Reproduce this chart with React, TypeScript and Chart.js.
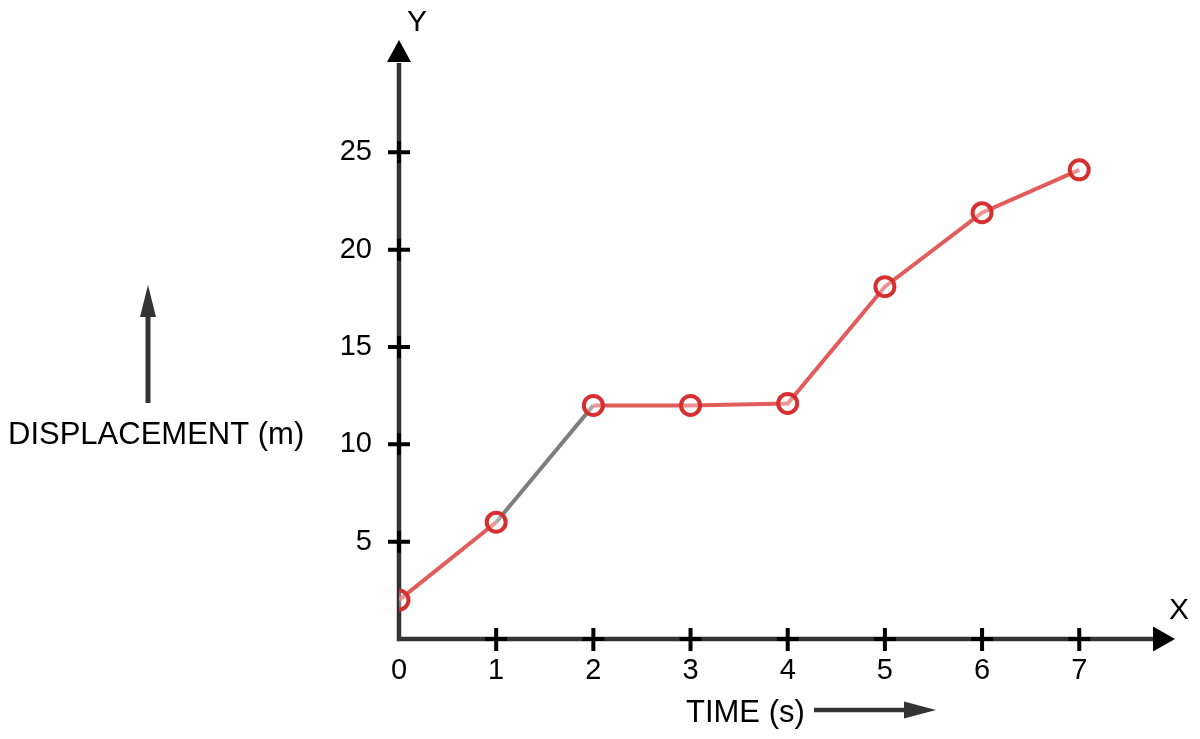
import React, { useEffect, useRef } from "react";
import { Chart, registerables } from "chart.js";

Chart.register(...registerables);

// Displacement–time readings
const times = [0, 1, 2, 3, 4, 5, 6, 7];
const displacement = [2, 6, 12, 12, 12.1, 18.1, 21.9, 24.1];
const xTickValues = [0, 1, 2, 3, 4, 5, 6, 7];
const yTickValues = [5, 10, 15, 20, 25];
const yAxisTitle = "DISPLACEMENT (m)";
const xAxisTitle = "TIME (s)";

const FONT = '"Liberation Sans", Arial, sans-serif';
const AXIS_COLOR = "#333333";
const LINE_RED = "rgba(222, 70, 70, 0.88)";
const POINT_RED = "#d62f2f";
const LINE_GRAY = "#7f7f7f";

function arrowHead(
  ctx: CanvasRenderingContext2D,
  tipX: number,
  tipY: number,
  dir: "up" | "right",
  len: number,
  half: number,
  color: string
) {
  ctx.beginPath();
  if (dir === "up") {
    ctx.moveTo(tipX, tipY);
    ctx.lineTo(tipX - half, tipY + len);
    ctx.lineTo(tipX + half, tipY + len);
  } else {
    ctx.moveTo(tipX, tipY);
    ctx.lineTo(tipX - len, tipY - half);
    ctx.lineTo(tipX - len, tipY + half);
  }
  ctx.closePath();
  ctx.fillStyle = color;
  ctx.fill();
}

// Axis lines with arrowheads, cross-shaped tick marks and free-standing captions
const axesPlugin = {
  id: "arrowAxes",
  beforeDatasetsDraw(chart: any) {
    const { ctx, chartArea, scales } = chart;
    const x = scales.x;
    const y = scales.y;
    const ox = x.getPixelForValue(0);
    const oy = y.getPixelForValue(0);
    ctx.save();
    ctx.lineCap = "butt";
    // y axis
    ctx.strokeStyle = AXIS_COLOR;
    ctx.lineWidth = 4.5;
    ctx.beginPath();
    ctx.moveTo(ox, oy + 2);
    ctx.lineTo(ox, chartArea.top + 8);
    ctx.stroke();
    arrowHead(ctx, ox, chartArea.top - 15, "up", 22, 12, "#000");
    // x axis
    ctx.beginPath();
    ctx.moveTo(ox - 2, oy);
    ctx.lineTo(chartArea.right - 3, oy);
    ctx.stroke();
    arrowHead(ctx, chartArea.right + 18, oy, "right", 22, 12.5, "#000");
    // tick crosses
    ctx.strokeStyle = "#000";
    ctx.lineWidth = 4;
    yTickValues.forEach((v) => {
      const py = y.getPixelForValue(v);
      ctx.beginPath();
      ctx.moveTo(ox - 11, py);
      ctx.lineTo(ox + 11, py);
      ctx.moveTo(ox, py - 11);
      ctx.lineTo(ox, py + 11);
      ctx.stroke();
    });
    xTickValues.slice(1).forEach((v) => {
      const px = x.getPixelForValue(v);
      ctx.beginPath();
      ctx.moveTo(px - 11, oy);
      ctx.lineTo(px + 11, oy);
      ctx.moveTo(px, oy - 11);
      ctx.lineTo(px, oy + 12);
      ctx.stroke();
    });
    // axis letters
    ctx.fillStyle = "#000";
    ctx.font = `30px ${FONT}`;
    ctx.textAlign = "center";
    ctx.textBaseline = "middle";
    ctx.fillText("Y", ox + 18, chartArea.top - 32);
    ctx.fillText("X", chartArea.right + 22, oy - 28);
    ctx.restore();
  },
  afterDraw(chart: any) {
    const { ctx } = chart;
    ctx.save();
    ctx.fillStyle = "#000";
    ctx.font = `31px ${FONT}`;
    ctx.textAlign = "left";
    ctx.textBaseline = "alphabetic";
    ctx.fillText(yAxisTitle, 8, 444);
    ctx.fillText(xAxisTitle, 686, 722);
    // direction arrows beside the captions
    ctx.strokeStyle = AXIS_COLOR;
    ctx.lineWidth = 5;
    ctx.beginPath();
    ctx.moveTo(148, 403);
    ctx.lineTo(148, 314);
    ctx.stroke();
    arrowHead(ctx, 148, 285, "up", 32, 8, AXIS_COLOR);
    ctx.lineWidth = 4.5;
    ctx.beginPath();
    ctx.moveTo(814, 710);
    ctx.lineTo(907, 710);
    ctx.stroke();
    arrowHead(ctx, 936, 710, "right", 32, 8.5, AXIS_COLOR);
    ctx.restore();
  },
};

export default function App() {
  const canvasRef = useRef<HTMLCanvasElement | null>(null);

  useEffect(() => {
    const canvas = canvasRef.current;
    if (!canvas) return;
    const chart = new Chart(canvas, {
      type: "line",
      data: {
        datasets: [
          {
            data: times.map((t, i) => ({ x: t, y: displacement[i] })),
            borderColor: LINE_RED,
            borderWidth: 4,
            pointRadius: 9.5,
            pointBorderWidth: 4,
            pointBorderColor: POINT_RED,
            pointBackgroundColor: "rgba(255,255,255,0.35)",
            tension: 0,
            segment: {
              borderColor: (c: any) => (c.p0DataIndex === 1 ? LINE_GRAY : undefined),
            },
          },
        ],
      },
      options: {
        responsive: false,
        animation: false,
        events: [],
        layout: { padding: { top: 55, right: 43, left: 0, bottom: 0 } },
        plugins: { legend: { display: false }, tooltip: { enabled: false } },
        scales: {
          x: {
            type: "linear",
            min: 0,
            max: 7.8,
            grid: { display: false, drawTicks: false },
            border: { display: false },
            afterBuildTicks: (s: any) => {
              s.ticks = xTickValues.map((v) => ({ value: v }));
            },
            afterFit: (s: any) => {
              s.height = 100;
            },
            ticks: {
              color: "#000",
              padding: 15,
              maxRotation: 0,
              font: { size: 29, family: FONT },
            },
          },
          y: {
            type: "linear",
            min: 0,
            max: 30,
            grid: { display: false, drawTicks: false },
            border: { display: false },
            afterBuildTicks: (s: any) => {
              s.ticks = yTickValues.map((v) => ({ value: v }));
            },
            afterFit: (s: any) => {
              s.width = 399;
            },
            ticks: {
              color: "#000",
              padding: 27,
              font: { size: 29, family: FONT },
            },
          },
        },
      },
      plugins: [axesPlugin],
    });
    return () => chart.destroy();
  }, []);

  return (
    <div style={{ position: "absolute", left: 0, top: 0, width: 1200, height: 739, background: "#fff" }}>
      <canvas ref={canvasRef} width={1200} height={739} style={{ display: "block" }} />
    </div>
  );
}
